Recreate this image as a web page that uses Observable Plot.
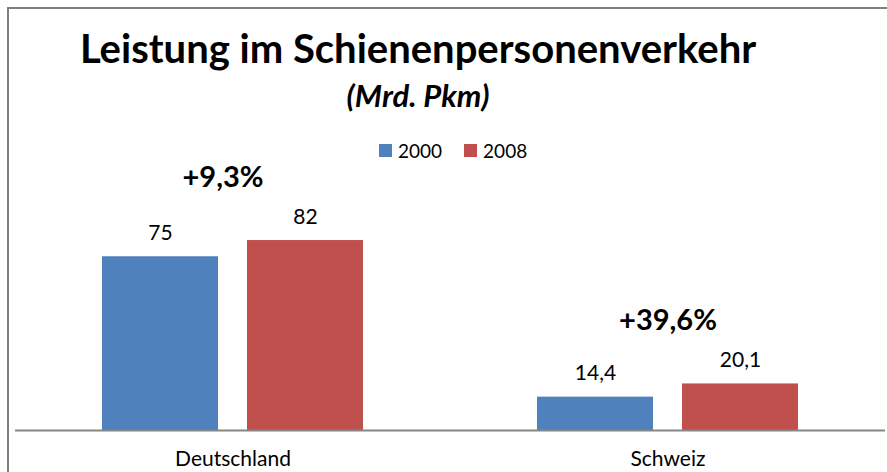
<!DOCTYPE html>
<html><head><meta charset="utf-8">
<script src="https://cdn.jsdelivr.net/npm/d3@7"></script>
<script src="https://cdn.jsdelivr.net/npm/@observablehq/plot@0.6"></script>
<style>
html,body{margin:0;padding:0;background:#fff;overflow:hidden;}
#wrap{position:relative;width:887px;height:472px;font-family:Lato,"Open Sans",sans-serif;}
#frame{position:absolute;left:7px;top:7px;width:900px;height:480px;border-top:2px solid #7f7f7f;border-left:2px solid #7f7f7f;box-sizing:border-box;}
.t{position:absolute;line-height:1;white-space:nowrap;color:#000;}
#title{font-weight:700;font-size:40px;left:0;width:836px;text-align:center;top:28px;}
#sub{font-weight:700;font-style:italic;font-size:31px;left:0;width:836px;text-align:center;top:80px;}
#legend{position:absolute;top:141px;left:379px;font-size:19px;display:flex;align-items:center;line-height:1;}
#legend span.sw{display:inline-block;width:13px;height:13px;margin-right:6px;}
#legend span.lb{margin-right:22px;}
#chart{position:absolute;left:0;top:0;}
</style></head>
<body><div id="wrap">
<div id="frame"></div>
<div id="chart"></div>
<div class="t" id="title">Leistung im Schienenpersonenverkehr</div>
<div class="t" id="sub">(Mrd. Pkm)</div>
<div id="legend"></div>
</div>
<script>
const categories = ["Deutschland", "Schweiz"];
const years = ["2000", "2008"];
const values2000 = [75, 14.4];
const values2008 = [82, 20.1];
const growthLabels = ["+9,3%", "+39,6%"];
const colors = ["#4F81BD", "#C0504D"];

const data = [];
categories.forEach((c, i) => {
  data.push({category: c, year: years[0], value: values2000[i]});
  data.push({category: c, year: years[1], value: values2008[i]});
});
const growth = categories.map((c, i) => ({category: c, label: growthLabels[i], top: Math.max(values2000[i], values2008[i])}));

const fmt = v => String(v).replace(".", ",");
const growthOpts = {fx: "category", y: "top", text: "label", lineAnchor: "bottom", dy: -54, fontSize: 29, fontWeight: 700, fill: "#000"};

const chart = Plot.plot({
  width: 887,
  height: 472,
  marginLeft: 15,
  marginRight: 2,
  marginTop: 13,
  marginBottom: 42,
  style: {fontFamily: "Lato, 'Open Sans', sans-serif", fontSize: "21px", color: "#000", background: "transparent"},
  fx: {domain: categories, padding: 0, label: null, axis: "bottom", tickSize: 0, tickPadding: 21, fontSize: 21},
  x: {domain: years, paddingInner: 0.2, paddingOuter: 0.6, axis: null},
  y: {domain: [0, 180], axis: null},
  color: {domain: years, range: colors},
  marks: [
    Plot.barY(data, {fx: "category", x: "year", y: "value", fill: "year"}),
    Plot.text(data, {fx: "category", x: "year", y: "value", text: d => fmt(d.value), lineAnchor: "bottom", dy: -17, fontSize: 21, fill: "#000"}),
    Plot.text(growth.filter(d => d.category === categories[0]), {...growthOpts, dx: -10}),
    Plot.text(growth.filter(d => d.category !== categories[0]), growthOpts),
    Plot.ruleY([0], {stroke: "#868686", strokeWidth: 2})
  ]
});
document.getElementById("chart").appendChild(chart);

const lg = document.getElementById("legend");
years.forEach((y, i) => {
  const sw = document.createElement("span"); sw.className = "sw"; sw.style.background = colors[i];
  const lb = document.createElement("span"); lb.className = "lb"; lb.textContent = y;
  lg.appendChild(sw); lg.appendChild(lb);
});
</script>
</body></html>
